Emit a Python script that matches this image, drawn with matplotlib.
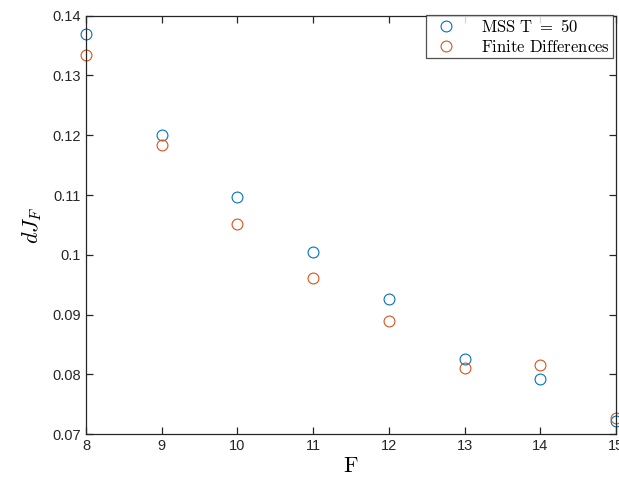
import matplotlib
matplotlib.use("Agg")
import matplotlib.pyplot as plt

# data
F = [8, 9, 10, 11, 12, 13, 14, 15]
mss = [0.1370, 0.1200, 0.1096, 0.1005, 0.0926, 0.0826, 0.0792, 0.0722]
fd = [0.1334, 0.1184, 0.1052, 0.0961, 0.0889, 0.0811, 0.0816, 0.0726]

plt.rcParams["font.family"] = ["Liberation Sans", "DejaVu Sans"]
plt.rcParams["mathtext.fontset"] = "cm"

fig = plt.figure(figsize=(6.19, 4.83), dpi=100)
ax = fig.add_axes([0.139, 0.1014, 0.856, 0.866])

ax.plot(F, mss, "o", mfc="none", mec="#0072BD", ms=7.8, mew=0.8,
        clip_on=False, label=r"$\mathrm{MSS\ T\ =\ 50}$")
ax.plot(F, fd, "o", mfc="none", mec="#D95319", ms=7.8, mew=0.8,
        clip_on=False, label=r"$\mathrm{Finite\ Differences}$")

ax.set_xlim(8, 15)
ax.set_ylim(0.07, 0.14)
ax.set_xticks(range(8, 16))
ax.set_yticks([0.07, 0.08, 0.09, 0.1, 0.11, 0.12, 0.13, 0.14])
ax.set_yticklabels(["0.07", "0.08", "0.09", "0.1", "0.11", "0.12", "0.13", "0.14"])
ax.tick_params(direction="in", top=True, right=True, labelsize=10.5,
               length=5, width=0.9, colors="#262626")
for s in ax.spines.values():
    s.set_linewidth(0.9)
    s.set_color("#262626")

ax.set_xlabel(r"$\mathrm{F}$", fontsize=16, labelpad=2)
ax.set_ylabel(r"$dJ_F$", fontsize=16, labelpad=6)

leg = ax.legend(loc="upper right", bbox_to_anchor=(0.995, 1.002), fontsize=12,
                frameon=True, fancybox=False, borderaxespad=0,
                handletextpad=1.1, borderpad=0.2, labelspacing=0.2)
leg.get_frame().set_edgecolor("#262626")
leg.get_frame().set_linewidth(0.9)

fig.savefig("out.png", dpi=100)
